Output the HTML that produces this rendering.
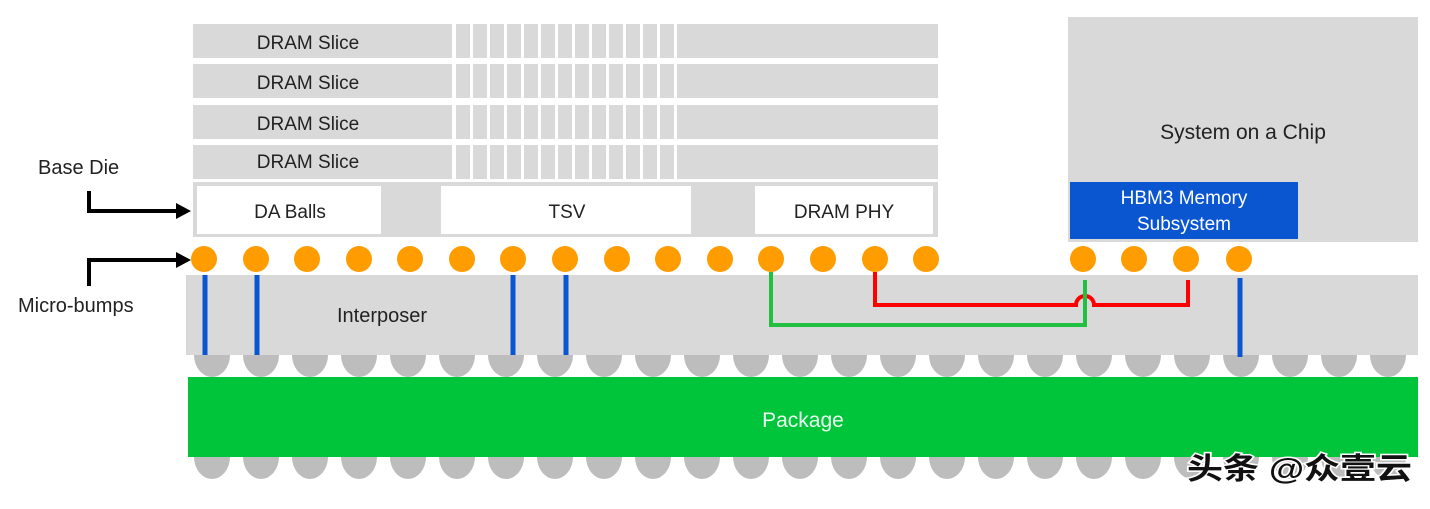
<!DOCTYPE html><html><head><style>
body{margin:0;background:#fff;}
svg text{font-family:"Liberation Sans","Noto Sans CJK SC",sans-serif;}
</style></head><body>
<svg width="1430" height="504" viewBox="0 0 1430 504" xmlns="http://www.w3.org/2000/svg">
<rect x="0" y="0" width="1430" height="504" fill="#fff"/>
<g fill="#d9d9d9">
<rect x="193" y="24" width="745" height="34"/>
<rect x="193" y="64" width="745" height="34"/>
<rect x="193" y="105" width="745" height="34"/>
<rect x="193" y="145" width="745" height="34"/>
</g>
<g fill="#fff">
<rect x="452" y="20" width="4" height="162"/>
<rect x="470" y="20" width="3" height="162"/>
<rect x="487" y="20" width="3" height="162"/>
<rect x="504" y="20" width="3" height="162"/>
<rect x="521" y="20" width="3" height="162"/>
<rect x="538" y="20" width="3" height="162"/>
<rect x="555" y="20" width="3" height="162"/>
<rect x="572" y="20" width="3" height="162"/>
<rect x="589" y="20" width="3" height="162"/>
<rect x="606" y="20" width="3" height="162"/>
<rect x="623" y="20" width="3" height="162"/>
<rect x="640" y="20" width="3" height="162"/>
<rect x="657" y="20" width="3" height="162"/>
<rect x="674" y="20" width="3" height="162"/>
</g>
<g font-size="19" fill="#222">
<text x="308" y="49" text-anchor="middle">DRAM Slice</text>
<text x="308" y="89" text-anchor="middle">DRAM Slice</text>
<text x="308" y="130" text-anchor="middle">DRAM Slice</text>
<text x="308" y="168" text-anchor="middle">DRAM Slice</text>
</g>
<rect x="193" y="182" width="745" height="55" fill="#d9d9d9"/>
<rect x="197" y="186" width="184" height="48" fill="#fff"/>
<rect x="441" y="186" width="250" height="48" fill="#fff"/>
<rect x="755" y="186" width="178" height="48" fill="#fff"/>
<g font-size="19" fill="#222" text-anchor="middle">
<text x="290" y="218">DA Balls</text>
<text x="567" y="218">TSV</text>
<text x="844" y="218">DRAM PHY</text>
</g>
<rect x="1068" y="17" width="350" height="225" fill="#d9d9d9"/>
<text x="1243" y="139" font-size="21" fill="#222" text-anchor="middle">System on a Chip</text>
<rect x="1070" y="182" width="228" height="57" fill="#0a55d0"/>
<text x="1184" y="204" font-size="19" fill="#fff" text-anchor="middle">HBM3 Memory</text>
<text x="1184" y="230" font-size="19" fill="#fff" text-anchor="middle">Subsystem</text>
<rect x="186" y="275" width="1232" height="80" fill="#d9d9d9"/>
<text x="382" y="322" font-size="20" fill="#222" text-anchor="middle">Interposer</text>
<g fill="#bdbdbd" id="gb">
<path d="M194 355 a18 22 0 0 0 36 0Z"/><path d="M243 355 a18 22 0 0 0 36 0Z"/><path d="M292 355 a18 22 0 0 0 36 0Z"/><path d="M341 355 a18 22 0 0 0 36 0Z"/><path d="M390 355 a18 22 0 0 0 36 0Z"/><path d="M439 355 a18 22 0 0 0 36 0Z"/><path d="M488 355 a18 22 0 0 0 36 0Z"/><path d="M537 355 a18 22 0 0 0 36 0Z"/><path d="M586 355 a18 22 0 0 0 36 0Z"/><path d="M635 355 a18 22 0 0 0 36 0Z"/><path d="M684 355 a18 22 0 0 0 36 0Z"/><path d="M733 355 a18 22 0 0 0 36 0Z"/><path d="M782 355 a18 22 0 0 0 36 0Z"/><path d="M831 355 a18 22 0 0 0 36 0Z"/><path d="M880 355 a18 22 0 0 0 36 0Z"/><path d="M929 355 a18 22 0 0 0 36 0Z"/><path d="M978 355 a18 22 0 0 0 36 0Z"/><path d="M1027 355 a18 22 0 0 0 36 0Z"/><path d="M1076 355 a18 22 0 0 0 36 0Z"/><path d="M1125 355 a18 22 0 0 0 36 0Z"/><path d="M1174 355 a18 22 0 0 0 36 0Z"/><path d="M1223 355 a18 22 0 0 0 36 0Z"/><path d="M1272 355 a18 22 0 0 0 36 0Z"/><path d="M1321 355 a18 22 0 0 0 36 0Z"/><path d="M1370 355 a18 22 0 0 0 36 0Z"/>
</g>
<use href="#gb" y="102"/>
<rect x="188" y="377" width="1230" height="80" fill="#00c43a"/>
<text x="803" y="427" font-size="21" fill="#eafff0" text-anchor="middle">Package</text>
<g stroke="#0a55d0" stroke-width="5">
<line x1="205" y1="275" x2="205" y2="355"/><line x1="257" y1="275" x2="257" y2="355"/>
<line x1="513" y1="275" x2="513" y2="355"/><line x1="566" y1="275" x2="566" y2="355"/>
<line x1="1240" y1="278" x2="1240" y2="357"/>
</g>
<polyline points="771,272 771,325 1085,325 1085,280" fill="none" stroke="#22c040" stroke-width="4"/>
<path d="M875 272 V305 H1076 A9 9 0 0 1 1094 305 H1188 V280" fill="none" stroke="#ff0000" stroke-width="4"/>
<line x1="1085" y1="280" x2="1085" y2="327" stroke="#22c040" stroke-width="4"/>
<g fill="#ff9c00">
<circle cx="204" cy="259" r="13"/><circle cx="256" cy="259" r="13"/><circle cx="307" cy="259" r="13"/><circle cx="359" cy="259" r="13"/><circle cx="410" cy="259" r="13"/><circle cx="462" cy="259" r="13"/><circle cx="513" cy="259" r="13"/><circle cx="565" cy="259" r="13"/><circle cx="617" cy="259" r="13"/><circle cx="668" cy="259" r="13"/><circle cx="720" cy="259" r="13"/><circle cx="771" cy="259" r="13"/><circle cx="823" cy="259" r="13"/><circle cx="875" cy="259" r="13"/><circle cx="926" cy="259" r="13"/>
<circle cx="1083" cy="259" r="13"/><circle cx="1134" cy="259" r="13"/><circle cx="1186" cy="259" r="13"/><circle cx="1239" cy="259" r="13"/>
</g>
<text x="38" y="174" font-size="20" fill="#222">Base Die</text>
<text x="18" y="312" font-size="20" fill="#222">Micro-bumps</text>
<g stroke="#000" stroke-width="4" fill="none">
<polyline points="89,191 89,211 178,211"/>
<polyline points="89,286 89,260 178,260"/>
</g>
<polygon points="176,203 191,211 176,219" fill="#000"/>
<polygon points="176,252 191,260 176,268" fill="#000"/>
<text x="1187" y="479" font-size="30" font-weight="bold" fill="#111" stroke="#fff" stroke-width="3" paint-order="stroke" textLength="225" lengthAdjust="spacingAndGlyphs">头条 @众壹云</text>
</svg>
</body></html>
